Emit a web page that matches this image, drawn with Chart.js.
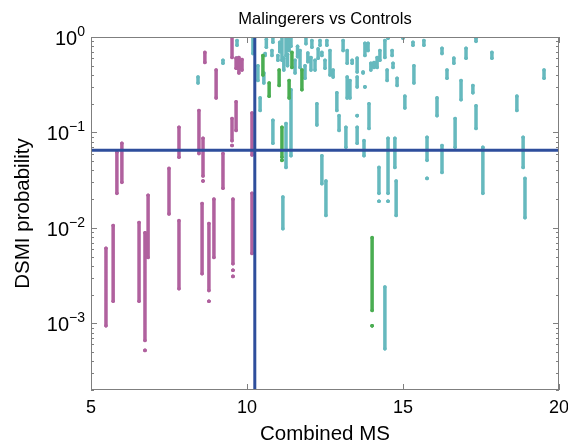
<!DOCTYPE html>
<html lang="en">
<head>
<meta charset="UTF-8" />
<title>Malingerers vs Controls</title>
<script src="https://cdn.jsdelivr.net/npm/chart.js"></script>
<style>
  body { margin: 0; background: #fff; }
  canvas { display: block; }
</style>
</head>
<body>
<canvas id="chart" width="568" height="444"></canvas>
<script>
// each streak: [Combined MS, lowest probability, highest probability]
const malingererStreaks = [
  [5.48, 0.00094, 0.0061], [5.71, 0.0017, 0.0106], [5.83, 0.023, 0.062],
  [5.99, 0.030, 0.077], [6.54, 0.0017, 0.0114], [6.73, 0.00066, 0.0089],
  [6.73, 0.00052, 0.00052], [6.83, 0.0049, 0.022], [7.50, 0.014, 0.042],
  [7.82, 0.0023, 0.0119], [7.82, 0.055, 0.113], [8.46, 0.060, 0.17],
  [8.56, 0.0033, 0.018], [8.59, 0.035, 0.087], [8.59, 0.031, 0.031],
  [8.65, 0.54, 0.69], [8.78, 0.0022, 0.0111], [8.78, 0.0017, 0.0017],
  [8.94, 0.0049, 0.020], [9.01, 0.23, 0.45], [9.23, 0.026, 0.060],
  [9.52, 0.082, 0.14], [9.52, 0.073, 0.073], [9.52, 0.61, 1.0],
  [9.55, 0.0042, 0.020], [9.55, 0.0036, 0.0036], [9.55, 0.0031, 0.0031],
  [9.65, 0.105, 0.21], [9.65, 0.47, 0.60], [9.74, 0.42, 0.61],
  [9.84, 0.45, 0.58], [10.16, 0.058, 0.16], [10.16, 0.0054, 0.023]
];

const controlStreaks = [
  [8.43, 0.33, 0.38], [9.23, 0.53, 0.57], [9.68, 0.82, 0.92], [9.68, 0.47, 0.60],
  [10.19, 0.67, 1.0], [10.35, 0.35, 0.50], [10.42, 0.17, 0.23], [10.54, 0.33, 0.42],
  [10.58, 0.64, 0.67], [10.80, 0.64, 0.72], [10.83, 0.88, 1.0], [10.83, 0.077, 0.134],
  [10.99, 0.57, 0.64], [11.12, 0.57, 1.0], [11.25, 0.64, 1.0], [11.35, 0.72, 1.0],
  [11.41, 0.80, 1.0], [11.25, 0.043, 0.124], [11.41, 0.057, 0.28], [11.15, 0.0098, 0.021],
  [11.54, 0.42, 0.57], [11.70, 0.48, 0.72], [11.86, 0.37, 0.50], [11.89, 0.85, 1.0],
  [12.05, 0.45, 0.61], [12.08, 0.78, 0.92], [12.18, 0.45, 0.57], [12.24, 0.12, 0.20],
  [12.34, 0.82, 0.92], [12.40, 0.64, 0.69], [12.40, 0.029, 0.057], [12.50, 0.47, 0.57],
  [12.53, 0.0135, 0.031], [12.56, 0.82, 0.92], [12.66, 0.40, 0.72], [12.76, 0.38, 0.45],
  [12.88, 0.17, 0.26], [12.95, 0.105, 0.15], [13.08, 0.72, 0.92], [13.17, 0.070, 0.113],
  [13.21, 0.53, 0.72], [13.21, 0.23, 0.38], [13.30, 0.23, 0.35], [13.37, 0.53, 0.57],
  [13.53, 0.43, 0.60], [13.53, 0.30, 0.38], [13.53, 0.077, 0.113], [13.53, 0.15, 0.15],
  [13.72, 0.42, 0.43], [13.75, 0.057, 0.082], [13.78, 0.64, 0.86], [13.78, 0.30, 0.30],
  [13.88, 0.72, 0.86], [13.91, 0.11, 0.20], [13.97, 0.45, 0.53], [14.07, 0.48, 0.54],
  [14.17, 0.48, 0.61], [14.23, 0.023, 0.043], [14.23, 0.019, 0.019], [14.26, 0.57, 0.72],
  [14.42, 0.61, 0.92], [14.42, 0.00054, 0.0024], [14.49, 0.35, 0.45], [14.52, 0.97, 1.0],
  [14.52, 0.023, 0.087], [14.52, 0.019, 0.019], [14.65, 0.64, 0.72], [14.68, 0.48, 0.53],
  [14.74, 0.043, 0.087], [14.78, 0.0135, 0.031], [14.81, 0.31, 0.37], [15.00, 0.97, 1.0],
  [15.06, 0.18, 0.24], [15.32, 0.82, 0.88], [15.35, 0.33, 0.50], [15.67, 0.82, 0.92],
  [15.77, 0.051, 0.089], [15.77, 0.033, 0.033], [16.09, 0.15, 0.23], [16.25, 0.67, 0.76],
  [16.25, 0.038, 0.073], [16.41, 0.37, 0.45], [16.63, 0.53, 0.60], [16.67, 0.070, 0.14],
  [16.86, 0.22, 0.35], [17.02, 0.60, 0.76], [17.24, 0.26, 0.31], [17.34, 0.90, 0.97],
  [17.34, 0.11, 0.19], [17.56, 0.023, 0.070], [17.85, 0.60, 0.69], [18.65, 0.17, 0.24],
  [18.85, 0.043, 0.089], [18.91, 0.0128, 0.033], [19.52, 0.37, 0.45],
  [10.62, 0.78, 0.95], [11.05, 0.70, 0.88], [11.18, 0.45, 0.60], [11.30, 0.50, 0.66],
  [11.62, 0.62, 0.80], [11.95, 0.55, 0.68], [12.28, 0.60, 0.75]
];

const mixedStreaks = [
  [10.51, 0.40, 0.64], [10.71, 0.24, 0.33], [11.03, 0.31, 0.45], [11.35, 0.23, 0.35],
  [11.44, 0.48, 0.69], [11.76, 0.28, 0.45], [11.12, 0.055, 0.113], [11.12, 0.051, 0.051],
  [14.01, 0.00136, 0.0079], [14.01, 0.00094, 0.00094]
];

const cutScore = 10.25;
const cutProbability = 0.065;

const xTicks = [5, 10, 15, 20];
const yTicks = [1, 0.1, 0.01, 0.001];
const yExponents = ["0", "\u22121", "\u22122", "\u22123"];

const xMin = 5, xMax = 20, yMin = 0.0002, yMax = 1;
const FONT = "'Liberation Sans', Arial, Helvetica, sans-serif";

function streakPoints(list) {
  const pts = [];
  list.forEach(([x, lo, hi]) => {
    pts.push({ x: x, y: lo }, { x: x, y: hi }, { x: x, y: null });
  });
  return pts;
}

function streakSet(list, color) {
  return {
    data: streakPoints(list),
    showLine: true,
    spanGaps: false,
    borderColor: color,
    backgroundColor: color,
    borderWidth: 3.5,
    borderCapStyle: "round",
    pointRadius: 1.8,
    pointBorderWidth: 0,
  };
}

const frameAndTicks = {
  id: "frameAndTicks",
  afterDraw(chart) {
    const { ctx, chartArea: a, scales } = chart;
    const xs = scales.x, ys = scales.y;
    ctx.save();
    ctx.strokeStyle = "#7f7f7f";
    ctx.lineWidth = 1;
    ctx.strokeRect(a.left + 0.5, a.top + 0.5, a.right - a.left - 1, a.bottom - a.top - 1);

    ctx.beginPath();
    xTicks.forEach((v) => {
      const px = Math.round(xs.getPixelForValue(v)) + 0.5;
      ctx.moveTo(px, a.bottom); ctx.lineTo(px, a.bottom - 6);
      ctx.moveTo(px, a.top); ctx.lineTo(px, a.top + 6);
    });
    for (let d = -4; d <= 0; d++) {
      for (let m = 1; m <= 9; m++) {
        const v = m * Math.pow(10, d);
        if (v < yMin || v > yMax) continue;
        const py = Math.round(ys.getPixelForValue(v)) + 0.5;
        const len = m === 1 ? 6 : 3;
        ctx.moveTo(a.left, py); ctx.lineTo(a.left + len, py);
        ctx.moveTo(a.right, py); ctx.lineTo(a.right - len, py);
      }
    }
    ctx.stroke();

    ctx.fillStyle = "#000";
    ctx.textBaseline = "alphabetic";
    ctx.textAlign = "center";
    ctx.font = "16.5px " + FONT;
    ctx.fillText("Malingerers vs Controls", (a.left + a.right) / 2, 24);

    ctx.font = "18px " + FONT;
    xTicks.forEach((v) => {
      ctx.fillText(String(v), xs.getPixelForValue(v), a.bottom + 23);
    });

    ctx.textAlign = "right";
    yTicks.forEach((v, i) => {
      const py = ys.getPixelForValue(v);
      const right = a.left - 6;
      ctx.font = "14px " + FONT;
      const ew = ctx.measureText(yExponents[i]).width;
      ctx.fillText(yExponents[i], right, py - 1);
      ctx.font = "20px " + FONT;
      ctx.fillText("10", right - ew, py + 8);
    });

    ctx.font = "20.5px " + FONT;
    ctx.textAlign = "center";
    ctx.fillText("Combined MS", (a.left + a.right) / 2, 440);
    ctx.translate(29, (a.top + a.bottom) / 2);
    ctx.rotate(-Math.PI / 2);
    ctx.fillText("DSMI probability", 0, 0);
    ctx.restore();
  },
};

new Chart(document.getElementById("chart").getContext("2d"), {
  type: "scatter",
  data: {
    datasets: [
      {
        data: [{ x: xMin, y: cutProbability }, { x: xMax, y: cutProbability }],
        showLine: true, borderColor: "#2e4e9c", borderWidth: 3, pointRadius: 0, order: -2,
      },
      {
        data: [{ x: cutScore, y: yMin }, { x: cutScore, y: yMax }],
        showLine: true, borderColor: "#2e4e9c", borderWidth: 3, pointRadius: 0, order: -1,
      },
      streakSet(mixedStreaks, "#4aad52"),
      streakSet(malingererStreaks, "#b0619e"),
      streakSet(controlStreaks, "#66b9be"),
    ],
  },
  options: {
    responsive: false,
    animation: false,
    devicePixelRatio: 1,
    layout: { padding: { left: 0, right: 9, top: 37, bottom: 0 } },
    plugins: {
      legend: { display: false },
      tooltip: { enabled: false },
      title: { display: false },
    },
    scales: {
      x: {
        type: "linear", min: xMin, max: xMax,
        grid: { display: false }, border: { display: false },
        ticks: { display: false },
        afterFit: (s) => { s.height = 54; },
      },
      y: {
        type: "logarithmic", min: yMin, max: yMax,
        grid: { display: false }, border: { display: false },
        ticks: { display: false },
        afterFit: (s) => { s.width = 91; },
      },
    },
  },
  plugins: [frameAndTicks],
});
</script>
</body>
</html>
